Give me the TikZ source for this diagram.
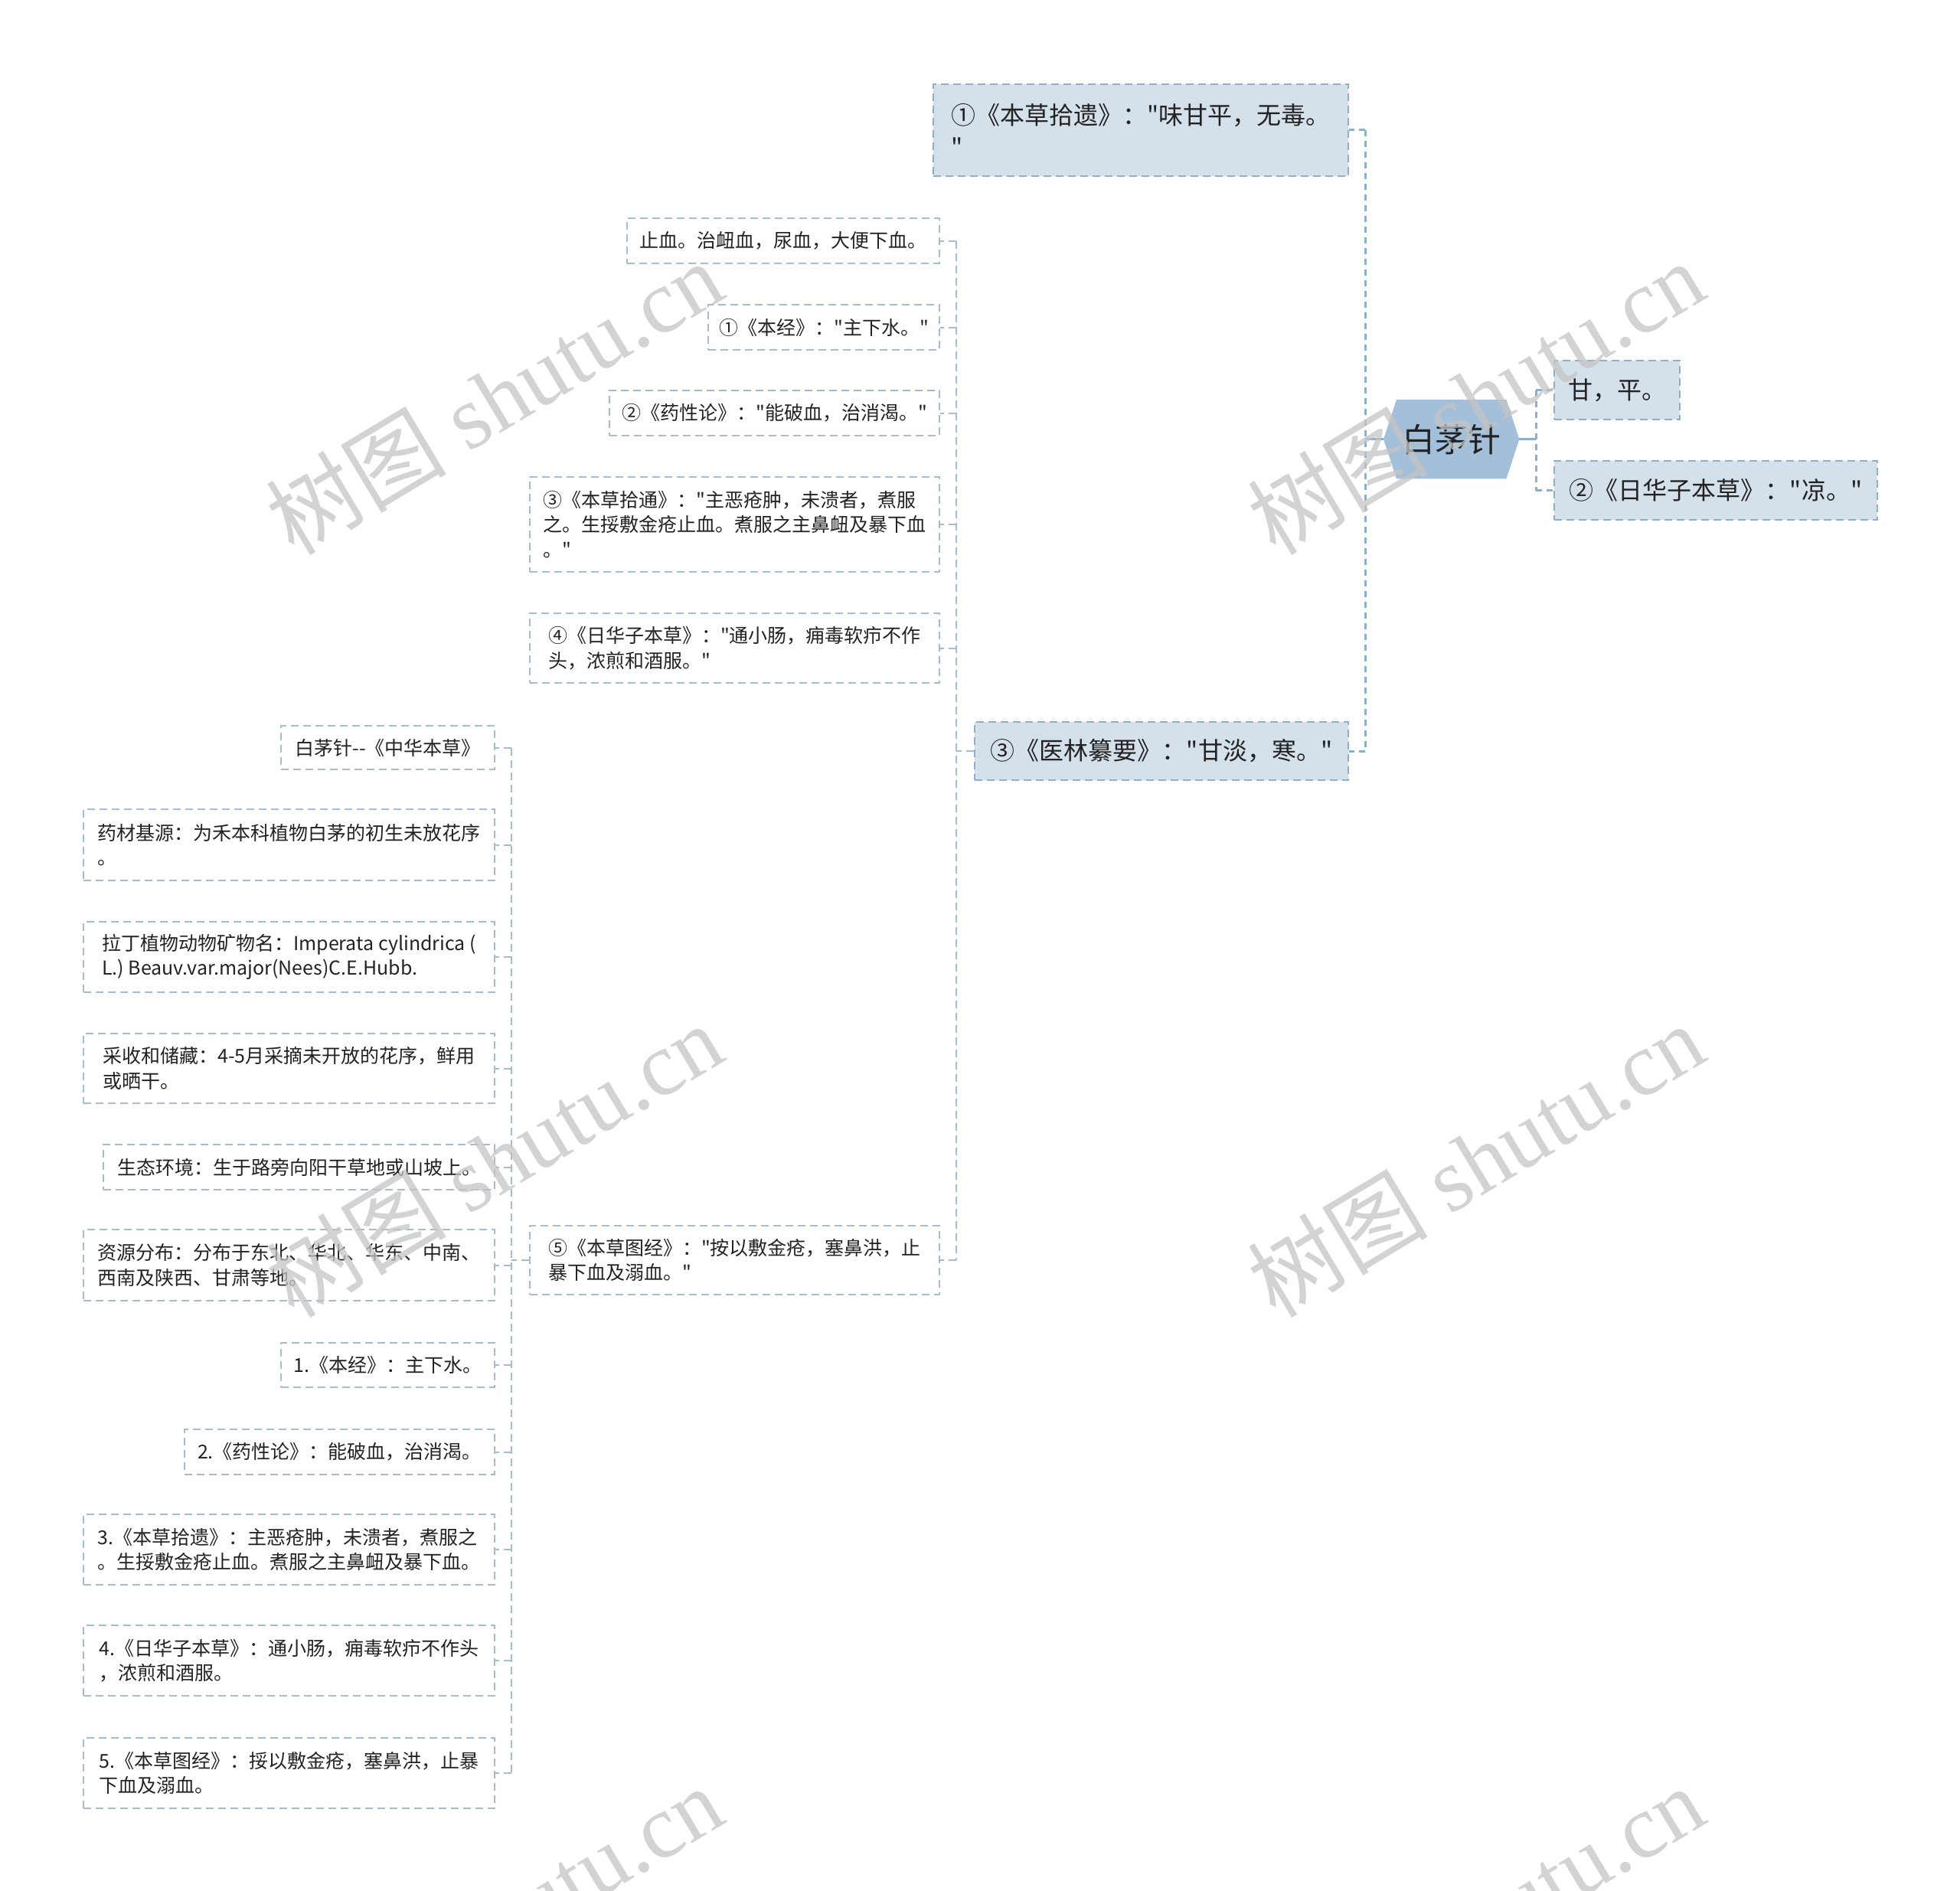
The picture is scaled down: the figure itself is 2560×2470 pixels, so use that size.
\documentclass[tikz,border=0pt]{standalone}
\usepackage{fontspec}
\setmainfont{Noto Sans CJK SC}[Ligatures=TeXOff]
\newfontfamily\wmcjk{Noto Sans CJK SC}
\newfontfamily\wmserif{Liberation Serif}
\usetikzlibrary{backgrounds}
\definecolor{linec}{HTML}{A5BCD0}
\definecolor{spinec}{HTML}{8FAECA}
\definecolor{onefill}{HTML}{D5E1EA}
\definecolor{rootfill}{HTML}{A3BFDA}
\definecolor{txtc}{HTML}{222222}
\definecolor{wmc}{HTML}{C4C4C4}
\tikzset{
  leafbox/.style={draw=linec, line width=2pt, dash pattern=on 10pt off 6pt, anchor=north west,
    inner xsep=14pt, inner ysep=0pt, align=left, text=txtc, font=\fontsize{25pt}{32.5pt}\selectfont},
  onebox/.style={leafbox, fill=onefill, draw=spinec, inner xsep=18pt, font=\fontsize{32pt}{42pt}\selectfont},
  rootbox/.style={anchor=north west, inner sep=0pt, text=txtc, font=\fontsize{43pt}{50pt}\selectfont},
  rootlink/.style={draw=spinec, line width=3pt},
  spineone/.style={draw=spinec, line width=3pt, dash pattern=on 8pt off 6pt},
  spinetwo/.style={draw=linec, line width=2pt, dash pattern=on 10pt off 6pt},
  wmark/.style={text=wmc, text opacity=0.75, rotate=31, inner sep=0pt, font=\fontsize{118pt}{130pt}\selectfont}
}
\begin{document}
\begin{tikzpicture}[x=1pt,y=-1pt]
\useasboundingbox (0,0) rectangle (2560,2470);
\clip (0,0) rectangle (2560,2470);

% root
\node[rootbox, minimum width=177pt, minimum height=103pt] (root) at (1807,522) {白茅针};
\begin{scope}[on background layer]
\fill[rootfill] (root.west) -- ([xshift=17pt]root.north west) -- ([xshift=-17pt]root.north east)
  -- (root.east) -- ([xshift=-17pt]root.south east) -- ([xshift=17pt]root.south west) -- cycle;
\end{scope}

% level one
\node[onebox, minimum width=542pt, minimum height=120pt] (a) at (1218,109) {①《本草拾遗》："味甘平，无毒。\\"};
\node[onebox, minimum width=164pt, minimum height=77pt] (b) at (2029,470) {甘，平。};
\node[onebox, minimum width=422pt, minimum height=77pt] (c) at (2029,601) {②《日华子本草》："凉。"};
\node[onebox, minimum width=488pt, minimum height=76pt] (d) at (1272,942) {③《医林纂要》："甘淡，寒。"};

% level two
\node[leafbox, minimum width=408pt, minimum height=59pt] (e1) at (818,284) {止血。治衄血，尿血，大便下血。};
\node[leafbox, minimum width=302pt, minimum height=59pt] (e2) at (924,397) {①《本经》："主下水。"};
\node[leafbox, minimum width=431pt, minimum height=59pt] (e3) at (795,509) {②《药性论》："能破血，治消渴。"};
\node[leafbox, minimum width=535pt, minimum height=124pt] (e4) at (691,622) {③《本草拾通》："主恶疮肿，未溃者，煮服\\之。生挼敷金疮止血。煮服之主鼻衄及暴下血\\。"};
\node[leafbox, minimum width=535pt, minimum height=91pt] (e5) at (691,800) {④《日华子本草》："通小肠，痈毒软疖不作\\头，浓煎和酒服。"};
\node[leafbox, minimum width=535pt, minimum height=90pt] (e6) at (691,1600) {⑤《本草图经》："按以敷金疮，塞鼻洪，止\\暴下血及溺血。"};

% level three
\node[leafbox, minimum width=279pt, minimum height=57pt] (f1) at (366,947) {白茅针--《中华本草》};
\node[leafbox, minimum width=537pt, minimum height=93pt] (f2) at (108,1056) {药材基源：为禾本科植物白茅的初生未放花序\\。};
\node[leafbox, minimum width=537pt, minimum height=92pt] (f3) at (108,1203) {拉丁植物动物矿物名：Imperata cylindrica (\\L.) Beauv.var.major(Nees)C.E.Hubb.};
\node[leafbox, minimum width=537pt, minimum height=91pt] (f4) at (108,1349) {采收和储藏：4-5月采摘未开放的花序，鲜用\\或晒干。};
\node[leafbox, minimum width=511pt, minimum height=59pt] (f5) at (134,1494) {生态环境：生于路旁向阳干草地或山坡上。};
\node[leafbox, minimum width=537pt, minimum height=93pt] (f6) at (108,1605) {资源分布：分布于东北、华北、华东、中南、\\西南及陕西、甘肃等地。};
\node[leafbox, minimum width=279pt, minimum height=58pt] (f7) at (366,1753) {1.《本经》：主下水。};
\node[leafbox, minimum width=405pt, minimum height=59pt] (f8) at (240,1866) {2.《药性论》：能破血，治消渴。};
\node[leafbox, minimum width=537pt, minimum height=92pt] (f9) at (108,1977) {3.《本草拾遗》：主恶疮肿，未溃者，煮服之\\。生挼敷金疮止血。煮服之主鼻衄及暴下血。};
\node[leafbox, minimum width=537pt, minimum height=92pt] (f10) at (108,2122) {4.《日华子本草》：通小肠，痈毒软疖不作头\\，浓煎和酒服。};
\node[leafbox, minimum width=537pt, minimum height=92pt] (f11) at (108,2269) {5.《本草图经》：挼以敷金疮，塞鼻洪，止暴\\下血及溺血。};

% connectors: root to left
\draw[rootlink] (root.west) -- ++(-24,0) coordinate (sl);
\draw[spineone] (sl |- a.east) -- (sl |- d.east);
\draw[spineone] (sl |- a.east) -- (a.east);
\draw[spineone] (sl |- d.east) -- (d.east);
% root to right
\draw[rootlink] (root.east) -- ++(22,0) coordinate (sr);
\draw[spineone] (sr |- b.west) -- (sr |- c.west);
\draw[spineone] (sr |- b.west) -- (b.west);
\draw[spineone] (sr |- c.west) -- (c.west);
% level two
\draw[spinetwo] (d.west) -- ++(-23,0) coordinate (s2);
\draw[spinetwo] (s2 |- e1.east) -- (s2 |- e6.east);
\foreach \n in {e1,e2,e3,e4,e5,e6} \draw[spinetwo] (s2 |- \n.east) -- (\n.east);
% level three
\draw[spinetwo] (e6.west) -- ++(-23,0) coordinate (s3);
\draw[spinetwo] (s3 |- f1.east) -- (s3 |- f11.east);
\foreach \n in {f1,f2,f3,f4,f5,f6,f7,f8,f9,f10,f11} \draw[spinetwo] (s3 |- \n.east) -- (\n.east);

% watermarks
\node[wmark] (w1) at (645,519) {\wmcjk 树图\hspace{0.25em}\wmserif shutu.cn};
\node[wmark] (w2) at (1927,519) {\wmcjk 树图\hspace{0.25em}\wmserif shutu.cn};
\node[wmark] (w3) at (645,1515) {\wmcjk 树图\hspace{0.25em}\wmserif shutu.cn};
\node[wmark] (w4) at (1927,1515) {\wmcjk 树图\hspace{0.25em}\wmserif shutu.cn};
\node[wmark] (w5) at (645,2511) {\wmcjk 树图\hspace{0.25em}\wmserif shutu.cn};
\node[wmark] (w6) at (1927,2511) {\wmcjk 树图\hspace{0.25em}\wmserif shutu.cn};
\end{tikzpicture}
\end{document}
